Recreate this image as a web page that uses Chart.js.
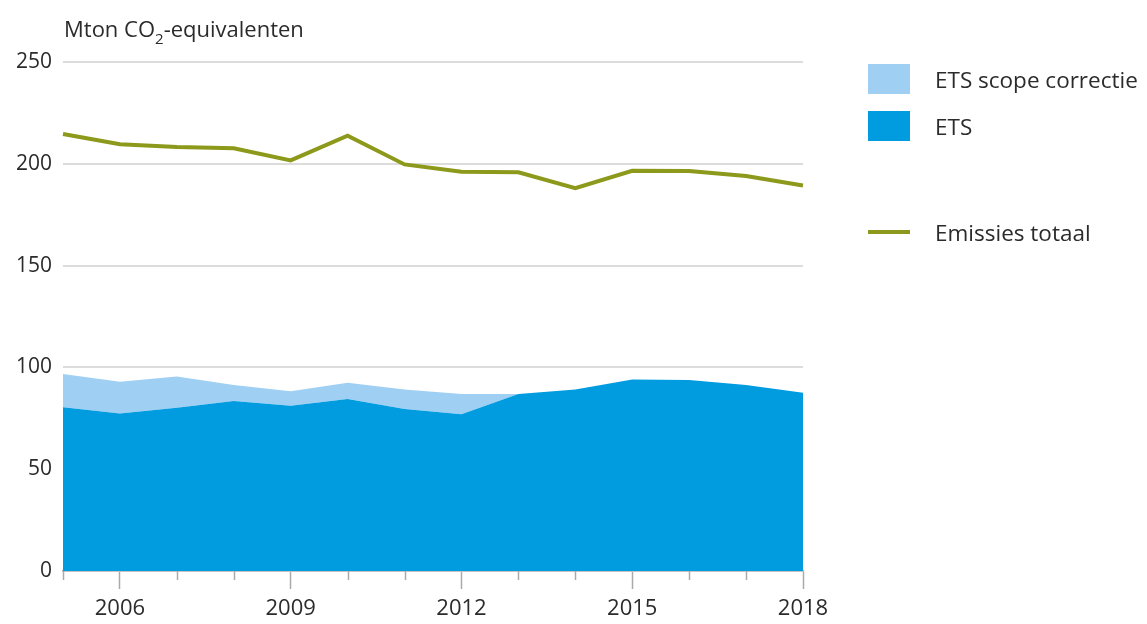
<!DOCTYPE html>
<html>
<head>
<meta charset="utf-8">
<script src="https://cdn.jsdelivr.net/npm/chart.js@4.4.0/dist/chart.umd.min.js"></script>
<style>
  body { margin: 0; background: #fff; font-family: "Open Sans", sans-serif; color: #2b2b2b; }
  #wrap { position: relative; width: 1147px; height: 624px; }
  #myChart { position: absolute; left: 0; top: 0; }
  .title { position: absolute; left: 64px; top: 16px; font-size: 22px; line-height: 24px; white-space: nowrap; }
  .title sub { font-size: 15px; vertical-align: -7px; line-height: 0; }
  .leg { position: absolute; left: 868px; height: 30px; display: flex; align-items: center; font-size: 22.5px; white-space: nowrap; }
  .leg .box { width: 42px; height: 30px; margin-right: 25px; }
  .leg .ln { width: 42px; height: 4px; margin-right: 25px; }
</style>
</head>
<body>
<div id="wrap">
  <canvas id="myChart" width="1147" height="624"></canvas>
  <div class="title">Mton CO<sub>2</sub>-equivalenten</div>
  <div class="leg" style="top:64px"><div class="box" style="background:#9fd0f3"></div>ETS scope correctie</div>
  <div class="leg" style="top:111px"><div class="box" style="background:#009cdf"></div>ETS</div>
  <div class="leg" style="top:217px"><div class="ln" style="background:#8c991a"></div>Emissies totaal</div>
</div>
<script>
// waarden
const years = ['2005', '2006', '2007', '2008', '2009', '2010', '2011', '2012', '2013', '2014', '2015', '2016', '2017', '2018'];
const ets = [80.4, 77.4, 80.2, 83.5, 81.2, 84.5, 79.6, 77.0, 86.9, 89.2, 94.1, 93.8, 91.4, 87.6];
const scopeCorrectie = [16.4, 15.6, 15.3, 7.9, 7.1, 8.0, 9.6, 9.9, 0, 0, 0, 0, 0, 0];
const emissiesTotaal = [214.6, 209.6, 208.2, 207.6, 201.7, 213.8, 199.7, 196.1, 195.8, 188.0, 196.6, 196.5, 194.0, 189.3];
const yTicks = [0, 50, 100, 150, 200, 250];

const isLabelled = (i) => i % 3 === 1;

// korte tickjes voor de jaren zonder label
const shortTicks = {
  id: 'shortTicks',
  afterDraw(chart) {
    const x = chart.scales.x;
    const c = chart.ctx;
    c.save();
    c.strokeStyle = '#aaa';
    c.lineWidth = 1.5;
    years.forEach((y, i) => {
      if (isLabelled(i)) return;
      const px = Math.round(x.getPixelForValue(i)) + 0.5;
      c.beginPath();
      c.moveTo(px, x.top);
      c.lineTo(px, x.top + 9);
      c.stroke();
    });
    c.restore();
  }
};

const ctx = document.getElementById('myChart').getContext('2d');
const myChart = new Chart(ctx, {
  type: 'line',
  data: {
    labels: years,
    datasets: [
      {
        label: 'ETS',
        data: ets,
        stack: 'ets',
        order: 1,
        fill: 'origin',
        backgroundColor: '#009cdf',
        borderWidth: 0,
        pointRadius: 0
      },
      {
        label: 'ETS scope correctie',
        data: scopeCorrectie,
        stack: 'ets',
        order: 1,
        fill: '-1',
        backgroundColor: '#9fd0f3',
        borderWidth: 0,
        pointRadius: 0
      },
      {
        label: 'Emissies totaal',
        data: emissiesTotaal,
        stack: 'totaal',
        order: 0,
        fill: false,
        borderColor: '#8c991a',
        borderWidth: 4,
        pointRadius: 0
      }
    ]
  },
  plugins: [shortTicks],
  options: {
    responsive: false,
    animation: false,
    layout: { padding: { top: 62, right: 344, left: 0, bottom: 0 } },
    plugins: {
      legend: { display: false },
      tooltip: { enabled: false }
    },
    scales: {
      x: {
        grid: {
          drawOnChartArea: false,
          tickLength: 18,
          tickWidth: 1.5,
          tickColor: (c) => isLabelled(c.index) ? '#aaa' : 'rgba(0,0,0,0)'
        },
        border: { color: '#aaa', width: 1.5 },
        ticks: {
          autoSkip: false,
          maxRotation: 0,
          padding: 7,
          color: '#2b2b2b',
          font: { family: 'Open Sans', size: 22 },
          callback: (v, i) => isLabelled(i) ? years[i] : ''
        },
        afterFit: (s) => { s.height = 53; }
      },
      y: {
        stacked: true,
        min: 0,
        max: 250,
        afterBuildTicks: (s) => { s.ticks = yTicks.map(v => ({ value: v })); },
        grid: { color: '#dcdcdc', lineWidth: 2, drawTicks: false },
        border: { display: false },
        ticks: {
          padding: 11,
          color: '#2b2b2b',
          font: { family: 'Open Sans', size: 21 }
        },
        afterFit: (s) => { s.width = 63; }
      }
    }
  }
});
</script>
</body>
</html>
